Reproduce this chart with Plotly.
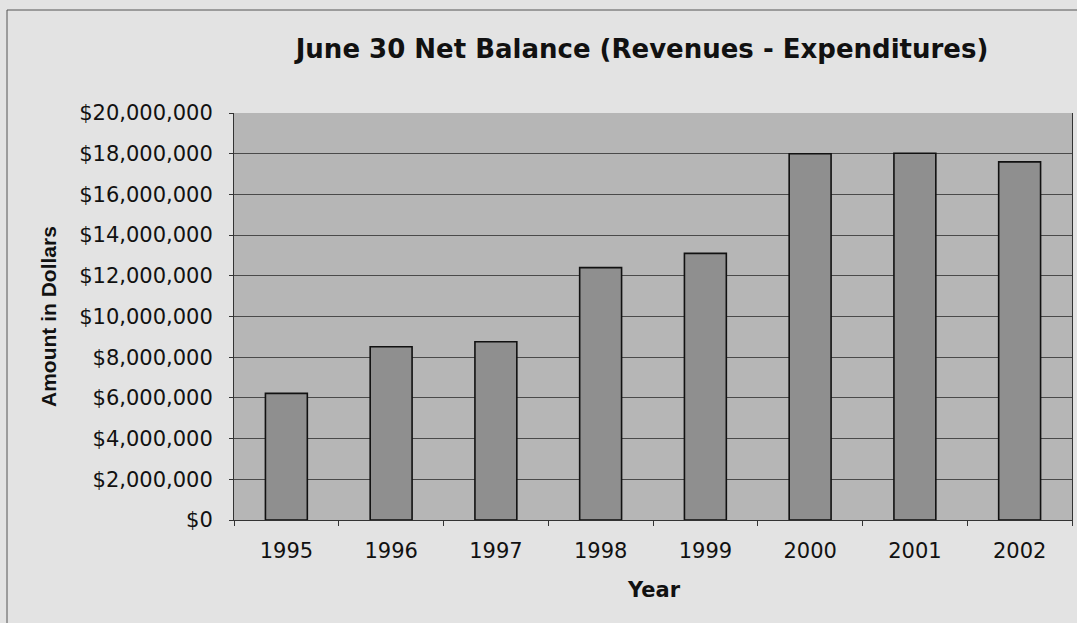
import plotly.graph_objects as go

years = ["1995", "1996", "1997", "1998", "1999", "2000", "2001", "2002"]
net_balance = [6220000, 8510000, 8760000, 12400000, 13100000, 18000000, 18020000, 17600000]
y_ticks = [0, 2000000, 4000000, 6000000, 8000000, 10000000, 12000000, 14000000,
           16000000, 18000000, 20000000]
y_tick_labels = ["${:,}".format(v) for v in y_ticks]

W, H = 1077, 623
L, R, T, B = 234, 5, 113, 103
PW, PH = W - L - R, H - T - B

fig = go.Figure()
fig.add_trace(go.Bar(
    x=years, y=net_balance,
    marker=dict(color="#8f8f8f", line=dict(color="#111111", width=1.6)),
    width=0.4,
))

dv = "DejaVu Sans, sans-serif"
lib = "Liberation Sans, Arial, sans-serif"
fig.update_layout(
    width=W, height=H,
    margin=dict(l=L, r=R, t=T, b=B, pad=0),
    paper_bgcolor="#e3e3e3",
    plot_bgcolor="#b6b6b6",
    showlegend=False,
    font=dict(family=dv, color="#111111"),
    title=dict(text="<b>June 30 Net Balance (Revenues - Expenditures)</b>",
               x=642 / W, xanchor="center", y=1 - 49 / H, yanchor="middle",
               font=dict(size=26, family=dv, color="#111111")),
    xaxis=dict(
        type="category", showgrid=False, ticks="outside", tickson="boundaries",
        ticklen=5, tickcolor="#333333", showline=True, linecolor="#333333", linewidth=1,
        tickfont=dict(size=21, family=dv, color="#111111"),
        ticklabelstandoff=12,
        range=[-0.5, 7.5],
    ),
    yaxis=dict(
        range=[0, 20000000], tickvals=y_ticks, ticktext=y_tick_labels,
        showgrid=True, gridcolor="#4a4a4a", gridwidth=1,
        ticks="outside", ticklen=4, tickcolor="#333333",
        showline=True, linecolor="#333333", linewidth=1, mirror=True,
        tickfont=dict(size=21, family=dv, color="#111111"),
        ticklabelstandoff=12,
        zeroline=False,
    ),
    annotations=[
        dict(text="<b>Year</b>", x=(654 - L) / PW, y=-(590 - 520) / PH,
             xref="paper", yref="paper", showarrow=False, xanchor="center", yanchor="middle",
             font=dict(size=21, family=dv, color="#111111")),
        dict(text="<b>Amount in Dollars</b>", x=-(L - 48) / PW, y=(520 - 317) / PH,
             xref="paper", yref="paper", showarrow=False, xanchor="center", yanchor="middle",
             textangle=-90, font=dict(size=21, family=lib, color="#111111")),
    ],
    shapes=[
        dict(type="rect", xref="paper", yref="paper",
             x0=-(L - 7) / PW, x1=1.02, y0=-0.3, y1=1 + (113 - 10) / PH,
             line=dict(color="#555555", width=1), layer="below"),
    ],
)

fig.write_html("out.html")
